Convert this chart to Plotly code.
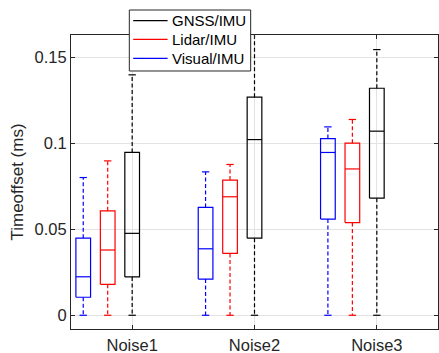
import plotly.graph_objects as go

# ---------------- data ----------------
groups = ["Noise1", "Noise2", "Noise3"]
series_names = ["GNSS/IMU", "Lidar/IMU", "Visual/IMU"]

gnss_min = [0.0, 0.0, 0.0]
gnss_q1 = [0.0223, 0.0449, 0.0682]
gnss_med = [0.0477, 0.1023, 0.1072]
gnss_q3 = [0.0948, 0.1270, 0.1322]
gnss_max = [0.1400, 0.1750, 0.1547]

lidar_min = [0.0, 0.0, 0.0]
lidar_q1 = [0.0180, 0.0360, 0.0540]
lidar_med = [0.0380, 0.0690, 0.0852]
lidar_q3 = [0.0608, 0.0787, 0.1002]
lidar_max = [0.0899, 0.0878, 0.1140]

visual_min = [0.0, 0.0, 0.0]
visual_q1 = [0.0105, 0.0211, 0.0560]
visual_med = [0.0224, 0.0387, 0.0948]
visual_q3 = [0.0449, 0.0628, 0.1029]
visual_max = [0.0802, 0.0835, 0.1097]

ytick_vals = [0, 0.05, 0.1, 0.15]
ytick_text = ["0", "0.05", "0.1", "0.15"]

# ---------------- styling ----------------
colors = ["#000000", "#ff0000", "#0000ff"]
offsets = [0.0, -0.2, -0.4]
half_w = 0.06
cap_w = 0.03
text_col = "#262626"
font_family = "Liberation Sans, Arial, sans-serif"

stats = [
    (gnss_min, gnss_q1, gnss_med, gnss_q3, gnss_max),
    (lidar_min, lidar_q1, lidar_med, lidar_q3, lidar_max),
    (visual_min, visual_q1, visual_med, visual_q3, visual_max),
]

fig = go.Figure()

for name, col, off, (mn, q1, md, q3, mx) in zip(series_names, colors, offsets, stats):
    bx, by, wx, wy, cx, cy = [], [], [], [], [], []
    for i in range(len(groups)):
        c = i + 1 + off
        bx += [c - half_w, c + half_w, c + half_w, c - half_w, c - half_w, None]
        by += [q1[i], q1[i], q3[i], q3[i], q1[i], None]
        bx += [c - half_w, c + half_w, None]
        by += [md[i], md[i], None]
        wx += [c, c, None, c, c, None]
        wy += [q3[i], mx[i], None, q1[i], mn[i], None]
        cx += [c - cap_w, c + cap_w, None, c - cap_w, c + cap_w, None]
        cy += [mx[i], mx[i], None, mn[i], mn[i], None]
    fig.add_trace(go.Scatter(x=wx, y=wy, mode="lines", showlegend=False,
                             line=dict(color=col, width=1.2, dash="4px,2.5px"),
                             hoverinfo="skip"))
    fig.add_trace(go.Scatter(x=cx, y=cy, mode="lines", showlegend=False,
                             line=dict(color=col, width=1.2), hoverinfo="skip"))
    fig.add_trace(go.Scatter(x=bx, y=by, mode="lines", name=name, showlegend=False,
                             line=dict(color=col, width=1.2)))

# ---------------- legend (MATLAB-style compact box) ----------------
lg_x0, lg_x1, lg_y0, lg_y1 = 0.1589, 0.4896, 0.8776, 1.085
row_y = [1.0486, 0.9854, 0.9207]
line_x0, line_x1, text_x = 0.1695, 0.2632, 0.2698
shapes = [dict(type="rect", xref="paper", yref="paper", x0=lg_x0, x1=lg_x1, y0=lg_y0, y1=lg_y1,
               fillcolor="white", line=dict(color=text_col, width=1), layer="above")]
annotations = []
for name, col, ry in zip(series_names, colors, row_y):
    shapes.append(dict(type="line", xref="paper", yref="paper", x0=line_x0, x1=line_x1,
                       y0=ry, y1=ry, line=dict(color=col, width=1.2), layer="above"))
    annotations.append(dict(xref="paper", yref="paper", x=text_x, y=ry, text=name,
                            showarrow=False, xanchor="left", yanchor="middle",
                            font=dict(family=font_family, size=15, color="#000000")))

axis_common = dict(
    showline=True, linecolor=text_col, linewidth=1, mirror="allticks",
    ticks="inside", ticklen=4, tickcolor=text_col, automargin=False,
    showgrid=True, gridcolor="#e3e3e3", gridwidth=1, zeroline=False,
    tickfont=dict(family=font_family, size=16.5, color=text_col),
)

fig.update_layout(
    width=439, height=353,
    margin=dict(l=71, r=1, t=35, b=24, pad=0, autoexpand=False),
    plot_bgcolor="white", paper_bgcolor="white",
    font=dict(family=font_family, color=text_col),
    xaxis=dict(range=[0.5, 3.5], tickvals=[1, 2, 3], ticktext=groups,
               ticklabelstandoff=1, **axis_common),
    yaxis=dict(range=[-0.008, 0.1632], tickvals=ytick_vals, ticktext=ytick_text,
               title=dict(text="Timeoffset (ms)", font=dict(size=17, family=font_family, color=text_col),
                          standoff=6),
               **axis_common),
    shapes=shapes,
    annotations=annotations,
    showlegend=False,
)

fig.write_html("out.html")
